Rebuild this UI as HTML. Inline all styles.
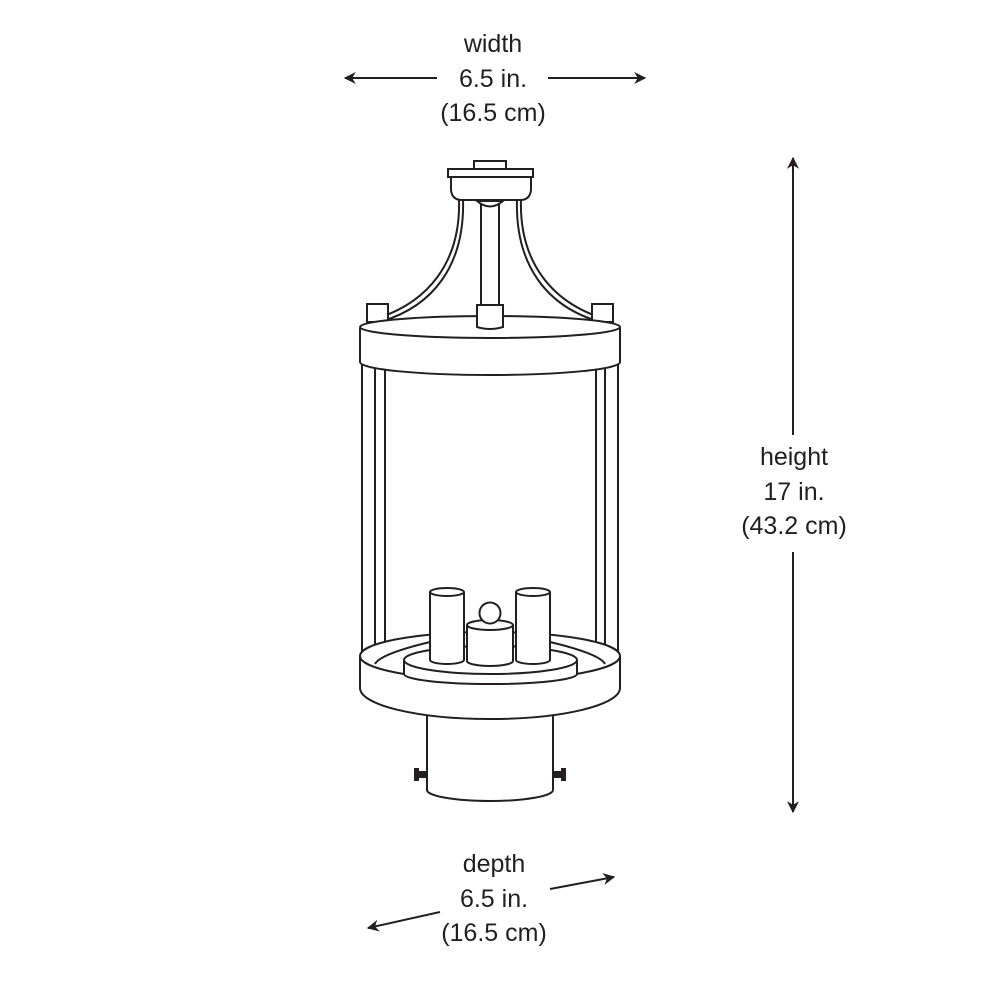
<!DOCTYPE html>
<html><head><style>
html,body{margin:0;padding:0;background:#fff;}
svg{display:block}
text{font-family:"Liberation Sans",sans-serif;font-size:25px;fill:#231f20;text-anchor:middle}
</style></head><body>
<svg width="1000" height="1000" viewBox="0 0 1000 1000" xmlns="http://www.w3.org/2000/svg">
<defs>
<marker id="ah" viewBox="0 0 10 10" refX="9" refY="5" markerWidth="12" markerHeight="12" markerUnits="userSpaceOnUse" orient="auto">
<path d="M0,0 L10,5 L0,10 L3,5 z" fill="#231f20"/>
</marker>
</defs>
<g fill="none" stroke="#231f20" stroke-width="2">
<line x1="437" y1="78" x2="345" y2="78" marker-end="url(#ah)"/>
<line x1="548" y1="78" x2="645" y2="78" marker-end="url(#ah)"/>
<line x1="793" y1="435" x2="793" y2="158" marker-end="url(#ah)"/>
<line x1="793" y1="552" x2="793" y2="812" marker-end="url(#ah)"/>
<line x1="550" y1="889" x2="614" y2="877" marker-end="url(#ah)"/>
<line x1="440" y1="912" x2="368" y2="928" marker-end="url(#ah)"/>
</g>
<g fill="#fff" stroke="#231f20" stroke-width="2">
<path d="M459,199 C461,260 430,305 368,321" fill="none"/>
<path d="M463,199 C465,262 436,309 372,324" fill="none"/>
<path d="M521,199 C519,260 550,305 612,321" fill="none"/>
<path d="M517,199 C515,262 544,309 608,324" fill="none"/>
<rect x="481" y="200" width="18" height="106"/>
<path d="M477,201 Q490,212 503,201 Z"/>
<rect x="367" y="304" width="21" height="18"/>
<rect x="592" y="304" width="21" height="18"/>
<rect x="474" y="161" width="32" height="8"/>
<rect x="448" y="169" width="85" height="8"/>
<path d="M451,177 L451,190 Q452,200 462,200 L520,200 Q530,200 531,190 L531,177 Z"/>
<line x1="362" y1="360" x2="362" y2="655"/>
<line x1="375" y1="363" x2="375" y2="668"/>
<line x1="385" y1="365" x2="385" y2="670"/>
<line x1="618" y1="360" x2="618" y2="655"/>
<line x1="605" y1="363" x2="605" y2="668"/>
<line x1="596" y1="365" x2="596" y2="670"/>
<path d="M360,328 L360,362 A130,13 0 0 0 620,362 L620,328"/>
<ellipse cx="490" cy="327" rx="130" ry="11"/>
<path d="M477,305 L503,305 L503,327 Q490,331 477,327 Z"/>
<path d="M427,700 L427,790 A63,11 0 0 0 553,790 L553,700"/>
<rect x="417" y="772" width="10" height="5" fill="#231f20"/>
<rect x="415" y="769" width="3" height="11" fill="#231f20"/>
<rect x="553" y="772" width="10" height="5" fill="#231f20"/>
<rect x="562" y="769" width="3" height="11" fill="#231f20"/>
<path d="M360,656 L360,688 A130,31 0 0 0 620,688 L620,656 A130,24 0 0 0 360,656 Z"/>
<path d="M360,656 A130,24 0 0 0 620,656" fill="none"/>
<path d="M375,664 Q380,654 430,642 M605,664 Q600,654 550,642" fill="none"/>
<path d="M404,660 L404,674 A86,10 0 0 0 577,674 L577,660"/>
<ellipse cx="490.5" cy="660" rx="86.5" ry="14"/>
<path d="M430,592 L430,660 A17,4 0 0 0 464,660 L464,592"/>
<ellipse cx="447" cy="592" rx="17" ry="4"/>
<path d="M516,592 L516,660 A17,4 0 0 0 550,660 L550,592"/>
<ellipse cx="533" cy="592" rx="17" ry="4"/>
<path d="M467,625 L467,661 A23,5 0 0 0 513,661 L513,625"/>
<ellipse cx="490" cy="625" rx="23" ry="5"/>
<circle cx="490" cy="613" r="10.5"/>
</g>
<text x="493" y="52">width</text>
<text x="493" y="87">6.5 in.</text>
<text x="493" y="121">(16.5 cm)</text>
<text x="794" y="465">height</text>
<text x="794" y="500">17 in.</text>
<text x="794" y="534">(43.2 cm)</text>
<text x="494" y="872">depth</text>
<text x="494" y="907">6.5 in.</text>
<text x="494" y="941">(16.5 cm)</text>
</svg>
</body></html>
